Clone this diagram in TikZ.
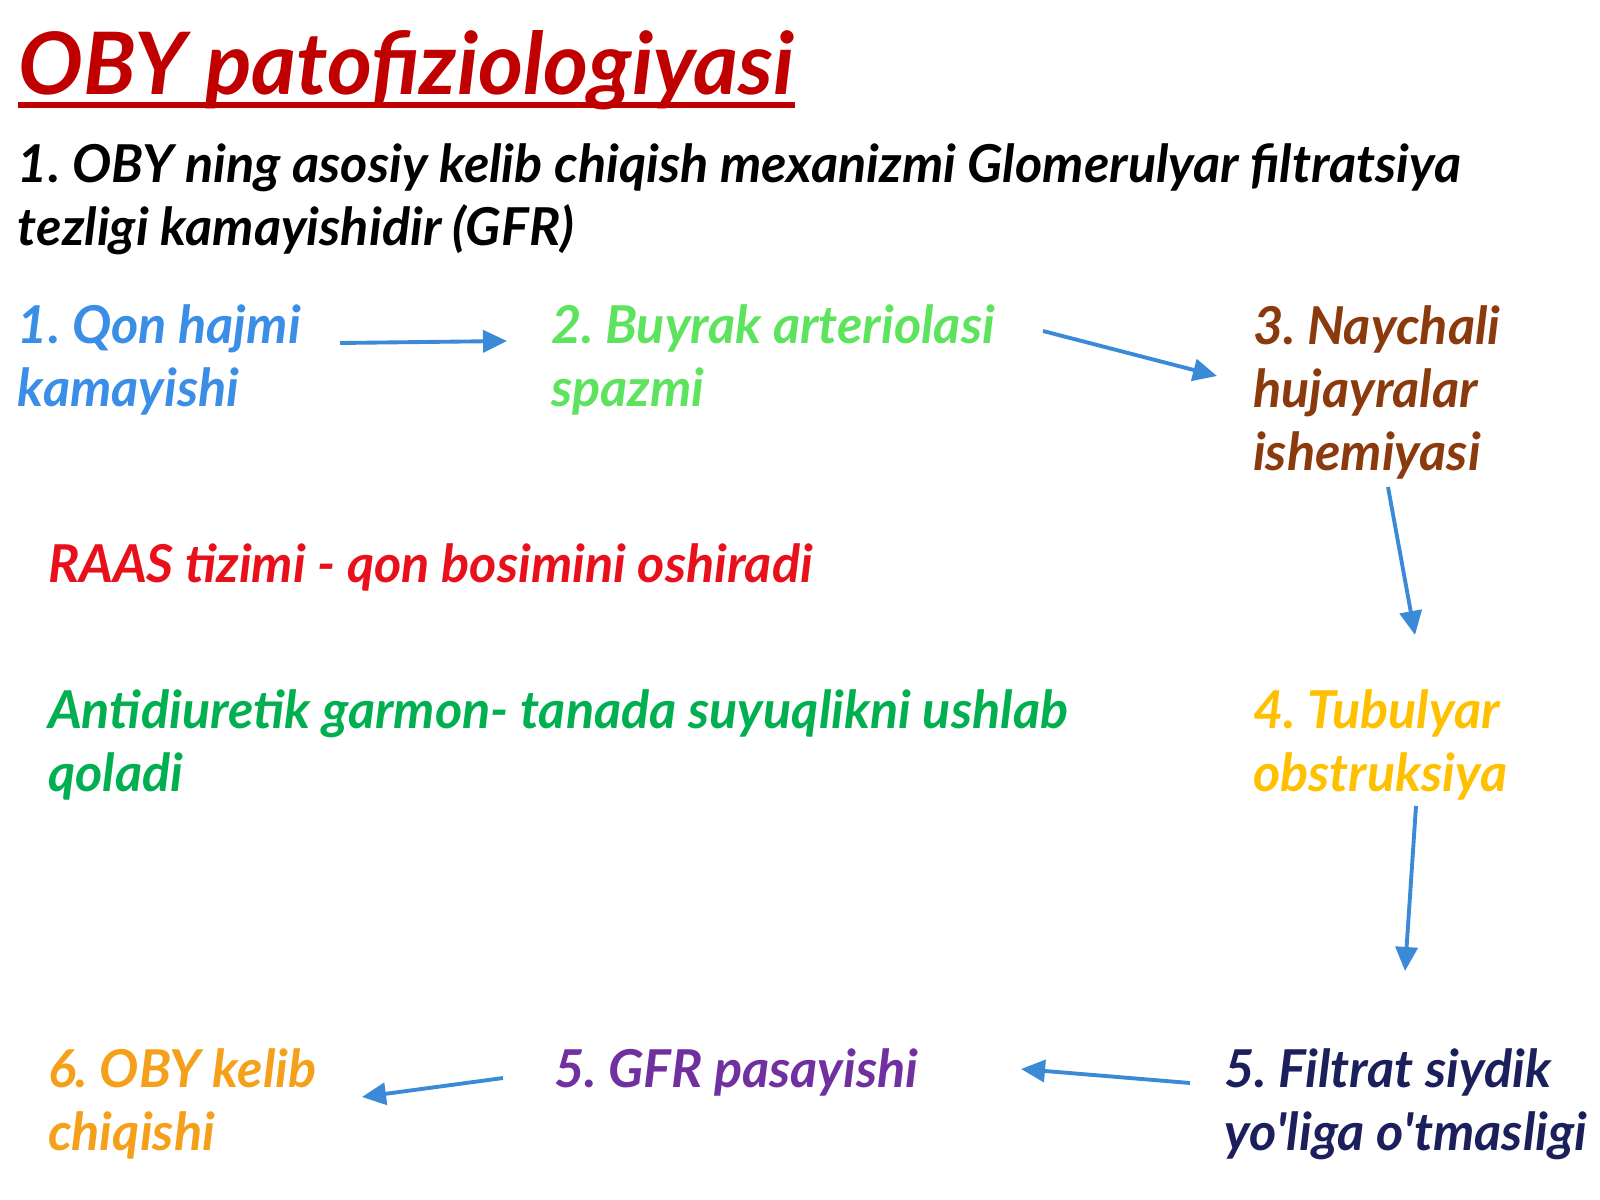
\documentclass[tikz,border=0pt]{standalone}
\usepackage{fontspec}
\setmainfont{Lato}
\usetikzlibrary{arrows.meta}
\definecolor{titlered}{HTML}{C00000}
\definecolor{qblue}{HTML}{3A8EE6}
\definecolor{arrblue}{HTML}{3A8AD8}
\definecolor{lgreen}{HTML}{5EE35E}
\definecolor{brown}{HTML}{8B3A0E}
\definecolor{raasred}{HTML}{E8101A}
\definecolor{adgreen}{HTML}{00B050}
\definecolor{gold}{HTML}{FFC000}
\definecolor{navy}{HTML}{1B1F5C}
\definecolor{purp}{HTML}{7030A0}
\definecolor{orng}{HTML}{F5A01A}
\tikzset{
  txt/.style={anchor=base west, inner sep=0pt, outer sep=0pt, align=left,
    font=\fontsize{14.85pt}{17.9pt}\selectfont\bfseries\itshape\frenchspacing},
  flow/.style={draw=arrblue, line width=1.1pt, -{Triangle[length=0.24cm,width=0.22cm]}}
}
\begin{document}
\begin{tikzpicture}[x=0.01cm,y=-0.01cm]
\useasboundingbox[fill=white] (0,0) rectangle (1600,1200);
\node[anchor=base west, inner sep=0pt, text=titlered, font=\fontsize{24.5pt}{28pt}\selectfont\bfseries\itshape] (title) at (18,94) {OBY patofiziologiyasi};
\fill[titlered] ([yshift=-0.8mm]title.base west) rectangle ([yshift=-1.4mm]title.base east);
\node[txt, text=black] (sub) at (18,245) {1. OBY ning asosiy kelib chiqish mexanizmi Glomerulyar filtratsiya\\tezligi kamayishidir (GFR)};
\node[txt, text=qblue] (n1) at (18,406) {1. Qon hajmi\\kamayishi};
\node[txt, text=lgreen] (n2) at (551,406) {2. Buyrak arteriolasi\\spazmi};
\node[txt, text=brown] (n3) at (1253,470) {3. Naychali\\hujayralar\\ishemiyasi};
\node[txt, text=raasred] (raas) at (48,582) {RAAS tizimi - qon bosimini oshiradi};
\node[txt, text=adgreen] (adh) at (48,791) {Antidiuretik garmon- tanada suyuqlikni ushlab\\qoladi};
\node[txt, text=gold] (n4) at (1253,791) {4. Tubulyar\\obstruksiya};
\node[txt, text=navy] (n5) at (1224,1150) {5. Filtrat siydik\\yo\textquotesingle liga o\textquotesingle tmasligi};
\node[txt, text=purp] (n6) at (554,1087) {5. GFR pasayishi};
\node[txt, text=orng] (n7) at (48,1150) {6. OBY kelib\\chiqishi};
\coordinate (a1s) at (340,343); \coordinate (a1e) at (507,341);
\coordinate (a2s) at (1043,331); \coordinate (a2e) at (1217,376);
\coordinate (a3s) at (1388,487); \coordinate (a3e) at (1415,635);
\coordinate (a4s) at (1416,806); \coordinate (a4e) at (1405,971);
\coordinate (a5s) at (1190,1083); \coordinate (a5e) at (1021,1069);
\coordinate (a6s) at (503,1078); \coordinate (a6e) at (362,1097);
\draw[flow] (a1s) -- (a1e);
\draw[flow] (a2s) -- (a2e);
\draw[flow] (a3s) -- (a3e);
\draw[flow] (a4s) -- (a4e);
\draw[flow] (a5s) -- (a5e);
\draw[flow] (a6s) -- (a6e);
\end{tikzpicture}
\end{document}
